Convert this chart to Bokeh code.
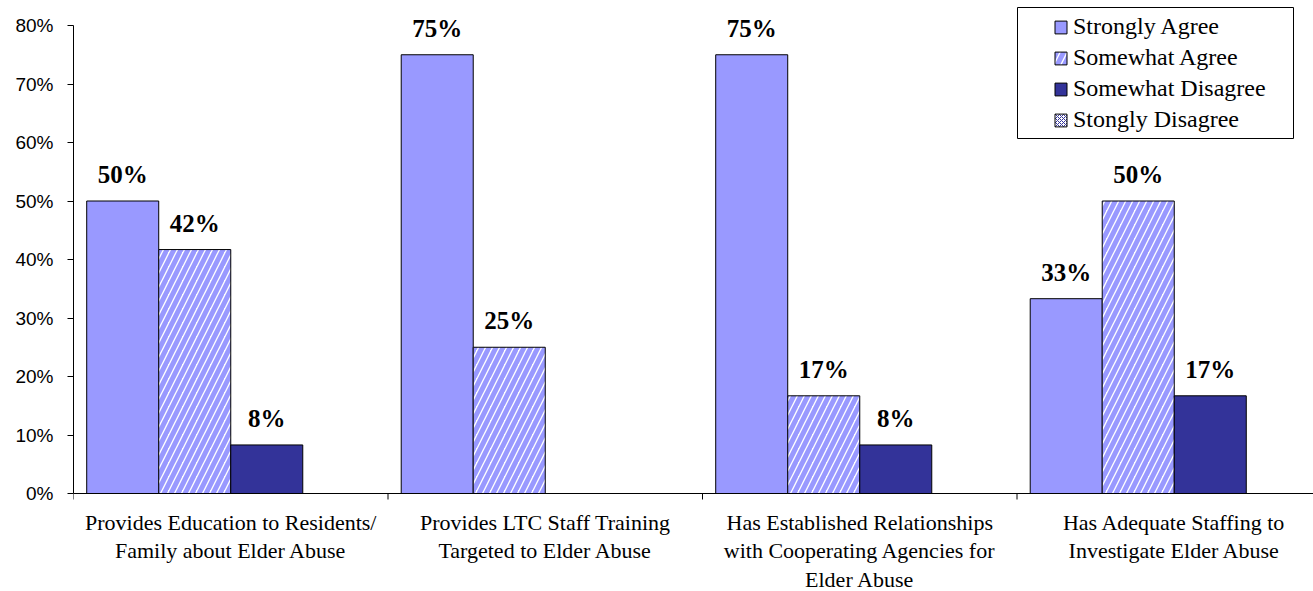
from bokeh.plotting import figure
from bokeh.models import (Range1d, FixedTicker, PrintfTickFormatter, Span, Label, LabelSet,
                          ColumnDataSource, Legend, LegendItem, BoxAnnotation)
from bokeh.embed import file_html
from bokeh.resources import INLINE

# ---------------- data ----------------
categories = [
    "Provides Education to Residents/\nFamily about Elder Abuse",
    "Provides LTC Staff Training\nTargeted to Elder Abuse",
    "Has Established Relationships\nwith Cooperating Agencies for\nElder Abuse",
    "Has Adequate Staffing to\nInvestigate Elder Abuse",
]
series_names = ["Strongly Agree", "Somewhat Agree", "Somewhat Disagree", "Stongly Disagree"]
strongly_agree = [50.0, 75.0, 75.0, 33.3]
somewhat_agree = [41.7, 25.0, 16.7, 50.0]
somewhat_disagree = [8.3, 0.0, 8.3, 16.7]
stongly_disagree = [0.0, 0.0, 0.0, 0.0]
y_ticks = [0, 10, 20, 30, 40, 50, 60, 70, 80]

series_values = [strongly_agree, somewhat_agree, somewhat_disagree, stongly_disagree]

# ---------------- layout ----------------
W, H = 1313, 591
LEFT = 73
CAT_PX = 314.5            # pixels per category
Y_PX = 5.85               # pixels per percent
ZERO_Y = 493              # y of 0% measured from figure top
frame_w = W - LEFT
x_end = frame_w / CAT_PX
y_end = ZERO_Y / Y_PX
y_start = -(H - ZERO_Y) / Y_PX

p = figure(width=W, height=H, output_backend="svg", toolbar_location=None,
           x_range=Range1d(0, x_end), y_range=Range1d(y_start, y_end),
           x_axis_location=None, min_border_left=LEFT, min_border_right=0,
           min_border_top=0, min_border_bottom=0)
p.outline_line_color = None
p.grid.visible = False
p.background_fill_color = "white"
p.border_fill_color = "white"

# y axis
ya = p.yaxis[0]
ya.bounds = (0, 80)
ya.ticker = FixedTicker(ticks=y_ticks, minor_ticks=[])
ya.formatter = PrintfTickFormatter(format="%d%%")
ya.major_tick_out = 6
ya.major_tick_in = 0
ya.minor_tick_out = 0
ya.minor_tick_in = 0
ya.major_label_standoff = 14
ya.major_label_text_font = "Liberation Sans"
ya.major_label_text_font_size = "19px"
ya.major_label_text_color = "black"
ya.axis_line_color = "black"
ya.major_tick_line_color = "black"

# x axis line & boundary ticks
p.add_layout(Span(location=0, dimension="width", line_color="black", line_width=1))
bounds_x = list(range(len(categories) + 1))
p.segment(x0=bounds_x, y0=[0] * len(bounds_x), x1=bounds_x,
          y1=[-6 / Y_PX] * len(bounds_x), line_color="black", line_width=1)

# bars
bar_w = 0.229
n = len(series_names)
styles = [
    dict(fill_color="#9999FF"),
    dict(fill_color="white", hatch_pattern="/", hatch_color="#9999FF", hatch_scale=14, hatch_weight=5),
    dict(fill_color="#333399"),
    dict(fill_color="white", hatch_pattern="x", hatch_color="#333399", hatch_scale=4, hatch_weight=1),
]
renderers = []
lab_x, lab_y, lab_t = [], [], []
for j, (name, vals) in enumerate(zip(series_names, series_values)):
    xs = [i + 0.5 + (j - (n - 1) / 2) * bar_w for i in range(len(categories))]
    r = p.vbar(x=xs, top=vals, bottom=0, width=bar_w, line_color="black", line_width=1, **styles[j])
    renderers.append(r)
    for x, v in zip(xs, vals):
        if v > 0:
            lab_x.append(x)
            lab_y.append(v)
            lab_t.append(f"{round(v)}%")

src = ColumnDataSource(dict(x=lab_x, y=lab_y, t=lab_t))
p.add_layout(LabelSet(x="x", y="y", text="t", source=src, y_offset=18,
                      text_align="center", text_baseline="alphabetic",
                      text_font="Liberation Serif", text_font_style="bold",
                      text_font_size="25px", text_color="black"))

# category labels
for i, c in enumerate(categories):
    p.add_layout(Label(x=i + 0.5, y=0, y_offset=-16, text=c, text_align="center",
                       text_baseline="top", text_font="Liberation Serif",
                       text_font_size="22px", text_line_height=1.15, text_color="black"))

# legend
legend = Legend(items=[LegendItem(label=nm, renderers=[r]) for nm, r in zip(series_names, renderers)],
                location=(980, 458), padding=0, margin=0, spacing=4,
                glyph_width=15, glyph_height=16, label_height=27, label_standoff=5,
                label_text_font="Liberation Serif", label_text_font_size="24px",
                label_text_color="black", border_line_alpha=0, background_fill_alpha=0)
p.add_layout(legend)
p.add_layout(BoxAnnotation(left=(1017 - LEFT) / CAT_PX, right=(1293 - LEFT) / CAT_PX,
                           top=(ZERO_Y - 7) / Y_PX, bottom=(ZERO_Y - 138) / Y_PX,
                           fill_color=None, fill_alpha=0, line_color="black", line_alpha=1,
                           line_width=1))

open("out.html", "w").write(file_html(p, INLINE))
